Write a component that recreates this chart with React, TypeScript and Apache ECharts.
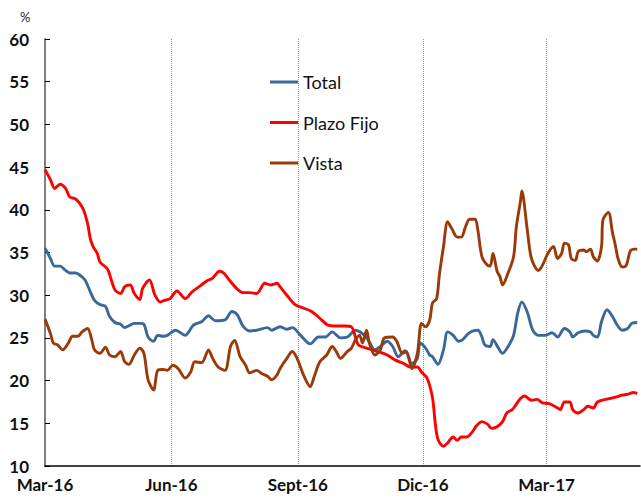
import React, { useEffect, useRef } from "react";
import * as echarts from "echarts";

// Daily categories starting 1 March 2016
const START = Date.UTC(2016, 2, 1);
const N_DAYS = 434;
const MONTH_LABELS: Record<number, string> = { 3: "Mar", 6: "Jun", 9: "Sept", 12: "Dic" };
const LABEL_MONTHS = [3, 6, 9, 12];

// [day offset from 1-Mar-2016, %]
const totalData: [number, number][] = [
  [0, 35.5], [4, 34.3], [7, 33.4], [11, 33.4], [15, 32.9], [18, 32.6], [22, 32.6], [25, 32.4],
  [29, 31.8], [33, 30.4], [36, 29.4], [40, 28.9], [44, 28.7], [47, 27.5], [51, 26.8], [55, 26.6],
  [58, 26.2], [62, 26.5], [65, 26.7], [69, 26.7], [72, 26.6], [75, 25.1], [79, 24.6], [82, 25.3],
  [86, 25.2], [89, 25.3], [95, 25.9], [102, 25.3], [108, 26.5], [114, 26.9], [119, 27.6], [124, 27.0],
  [131, 27.1], [136, 28.1], [140, 27.7], [144, 26.4], [149, 25.8], [154, 25.9], [162, 26.2], [165, 25.9],
  [171, 26.3], [176, 26.0], [180, 26.2], [186, 25.3], [193, 24.3], [199, 25.1], [204, 25.1], [209, 25.7],
  [215, 25.0], [220, 25.1], [226, 25.9], [231, 25.5], [235, 24.8], [240, 23.6], [244, 24.0], [249, 24.6],
  [253, 24.0], [257, 22.8], [262, 23.5], [267, 22.0], [271, 22.6], [273, 24.4], [277, 23.8], [280, 23.0],
  [282, 22.8], [286, 21.9], [290, 23.6], [293, 25.7], [297, 25.3], [301, 24.6], [304, 24.8], [308, 25.5],
  [311, 25.8], [315, 25.9], [318, 25.1], [320, 24.2], [324, 24.0], [326, 24.8], [330, 23.8], [333, 23.2],
  [337, 24.0], [341, 25.3], [344, 27.9], [347, 29.2], [351, 28.0], [355, 25.9], [359, 25.3], [364, 25.3],
  [369, 25.6], [373, 25.1], [378, 26.1], [382, 25.7], [384, 25.1], [388, 25.6], [393, 25.8], [397, 25.7],
  [399, 25.3], [402, 25.1], [405, 26.9], [409, 28.3], [413, 27.5], [416, 26.6], [420, 25.9], [424, 26.1],
  [427, 26.7], [431, 26.8],
];

const plazoData: [number, number][] = [
  [0, 44.7], [4, 43.5], [7, 42.5], [11, 43.0], [15, 42.5], [18, 41.5], [22, 41.3], [25, 40.8],
  [28, 40.0], [31, 38.4], [33, 36.6], [35, 35.7], [38, 34.9], [40, 33.9], [44, 33.3], [46, 32.9],
  [49, 31.4], [51, 30.6], [55, 30.2], [58, 31.0], [62, 31.2], [65, 30.2], [69, 29.5], [71, 30.8],
  [76, 31.8], [80, 30.0], [84, 29.2], [87, 29.4], [91, 29.6], [96, 30.5], [102, 29.6], [107, 30.4],
  [113, 31.1], [118, 31.7], [122, 32.0], [127, 32.8], [130, 32.6], [135, 31.6], [140, 30.7], [144, 30.3],
  [149, 30.3], [154, 30.2], [160, 31.4], [164, 31.2], [169, 31.4], [171, 31.0], [176, 30.0], [182, 28.9],
  [188, 28.5], [194, 28.1], [200, 27.3], [206, 26.5], [212, 26.4], [218, 26.4], [223, 26.3], [228, 24.2],
  [234, 23.8], [242, 23.4], [249, 23.0], [255, 22.4], [261, 22.0], [266, 21.6], [271, 21.6], [274, 21.0],
  [278, 20.3], [282, 18.0], [284, 15.0], [286, 13.1], [290, 12.3], [293, 12.7], [297, 13.4], [300, 13.0],
  [303, 13.4], [307, 13.4], [311, 14.0], [314, 14.7], [318, 15.2], [322, 14.9], [325, 14.4], [329, 14.6],
  [333, 15.2], [336, 16.2], [340, 16.6], [342, 17.0], [346, 17.9], [349, 18.2], [354, 17.7], [358, 17.8],
  [362, 17.4], [367, 17.3], [373, 16.8], [375, 16.6], [378, 17.5], [382, 17.5], [384, 16.6], [388, 16.2],
  [392, 16.6], [395, 17.0], [399, 16.8], [402, 17.5], [408, 17.8], [411, 17.9], [416, 18.1], [420, 18.3],
  [424, 18.4], [428, 18.6], [431, 18.5],
];

const vistaData: [number, number][] = [
  [0, 27.2], [4, 25.5], [6, 24.4], [9, 24.2], [13, 23.6], [17, 24.4], [20, 25.2], [24, 25.2],
  [27, 25.7], [31, 26.1], [34, 24.8], [36, 23.6], [40, 23.2], [44, 23.9], [47, 23.0], [51, 22.8],
  [55, 23.4], [58, 22.2], [61, 21.9], [65, 23.0], [69, 23.8], [72, 23.2], [75, 20.1], [79, 18.9],
  [82, 21.2], [86, 21.3], [89, 21.2], [93, 21.8], [97, 21.4], [102, 20.3], [106, 21.0], [109, 22.2],
  [114, 22.1], [119, 23.6], [122, 22.6], [126, 21.6], [131, 21.2], [135, 24.0], [138, 24.7], [142, 22.8],
  [146, 21.8], [149, 20.9], [154, 21.2], [158, 20.8], [162, 20.5], [165, 20.1], [169, 20.7], [171, 21.4],
  [176, 22.6], [180, 23.4], [184, 22.4], [188, 20.7], [193, 19.3], [196, 20.5], [200, 22.2], [205, 23.0],
  [209, 24.0], [212, 23.4], [215, 22.6], [220, 23.4], [223, 23.8], [226, 24.8], [229, 25.3], [231, 24.4],
  [234, 25.9], [236, 24.4], [240, 23.0], [244, 23.6], [247, 25.0], [253, 25.1], [256, 24.6], [260, 23.2],
  [263, 23.4], [267, 21.4], [271, 23.2], [274, 26.7], [277, 26.3], [280, 27.1], [282, 29.1], [285, 29.6],
  [287, 32.4], [290, 35.7], [293, 38.6], [296, 37.8], [300, 36.8], [303, 36.8], [306, 38.0], [309, 38.9],
  [313, 38.9], [315, 37.6], [318, 34.5], [322, 33.5], [324, 33.4], [326, 34.9], [329, 32.8], [331, 32.2],
  [333, 31.2], [337, 32.6], [341, 34.5], [343, 38.0], [346, 41.0], [347, 42.2], [351, 37.6], [354, 34.3],
  [359, 32.9], [362, 33.5], [366, 34.9], [370, 35.7], [373, 34.3], [376, 34.9], [378, 36.1], [381, 35.9],
  [383, 34.3], [386, 34.1], [388, 35.1], [392, 35.3], [394, 35.1], [397, 35.4], [399, 34.5], [402, 34.0],
  [405, 35.7], [406, 38.8], [410, 39.7], [413, 37.3], [415, 35.9], [417, 34.3], [420, 33.3], [423, 33.5],
  [426, 35.2], [429, 35.4], [431, 35.4],
];

const SERIES_NAMES = ["Total", "Plazo Fijo", "Vista"];
const COLORS = ["#3A6899", "#FF0000", "#9A3A08"];

function buildCategories(): string[] {
  const out: string[] = [];
  for (let i = 0; i < N_DAYS; i++) {
    const d = new Date(START + i * 86400000);
    const m = String(d.getUTCMonth() + 1).padStart(2, "0");
    const dd = String(d.getUTCDate()).padStart(2, "0");
    out.push(`${d.getUTCFullYear()}-${m}-${dd}`);
  }
  return out;
}

function isQuarterStart(value: string): boolean {
  const [, m, d] = value.split("-").map(Number);
  return d === 1 && LABEL_MONTHS.includes(m);
}

export default function App() {
  const ref = useRef<HTMLDivElement>(null);
  useEffect(() => {
    document.body.style.margin = "0";
    if (!ref.current) return;
    const chart = echarts.init(ref.current, undefined, { renderer: "svg" });
    const categories = buildCategories();
    const font = "Lato, 'Liberation Sans', sans-serif";
    const quarterInterval = (_i: number, v: string) => isQuarterStart(v);
    chart.setOption({
      animation: false,
      backgroundColor: "#ffffff",
      title: {
        text: "%",
        left: 15,
        top: 5,
        textStyle: { fontSize: 13, fontWeight: "normal", color: "#222", fontFamily: font },
      },
      legend: {
        data: SERIES_NAMES,
        orient: "vertical",
        left: 265,
        top: 67,
        icon: "rect",
        itemGap: 20.5,
        itemWidth: 28,
        itemHeight: 3,
        textStyle: { fontSize: 18, lineHeight: 20, color: "#111", fontFamily: font },
      },
      grid: { left: 45, right: 1, top: 39, bottom: 33, containLabel: false },
      xAxis: {
        type: "category",
        data: categories,
        boundaryGap: false,
        axisLine: { lineStyle: { color: "#000", width: 1.5 } },
        axisTick: { show: false },
        axisLabel: {
          interval: quarterInterval,
          margin: 10,
          fontSize: 17,
          fontWeight: "bold",
          color: "#111",
          fontFamily: font,
          formatter: (v: string) => {
            const [y, m] = v.split("-").map(Number);
            return `${MONTH_LABELS[m]}-${String(y).slice(2)}`;
          },
        },
        splitLine: {
          show: true,
          interval: quarterInterval,
          lineStyle: { color: "#9a9a9a", type: "dotted", width: 1 },
        },
      },
      yAxis: {
        type: "value",
        min: 10,
        max: 60,
        interval: 5,
        axisLine: { show: true, lineStyle: { color: "#808080", width: 2 } },
        axisTick: { show: true, inside: true, length: 5, lineStyle: { color: "#000" } },
        axisLabel: {
          margin: 16,
          fontSize: 17,
          fontWeight: "bold",
          color: "#111",
          fontFamily: font,
        },
        splitLine: { show: false },
      },
      series: [
        { name: SERIES_NAMES[0], data: totalData, color: COLORS[0] },
        { name: SERIES_NAMES[1], data: plazoData, color: COLORS[1] },
        { name: SERIES_NAMES[2], data: vistaData, color: COLORS[2] },
      ].map((s) => ({
        ...s,
        type: "line",
        symbol: "none",
        smooth: 0.3,
        lineStyle: { width: 2.9, color: s.color },
        itemStyle: { color: s.color },
      })),
    });
    return () => chart.dispose();
  }, []);
  return <div ref={ref} style={{ width: 641, height: 499 }} />;
}
